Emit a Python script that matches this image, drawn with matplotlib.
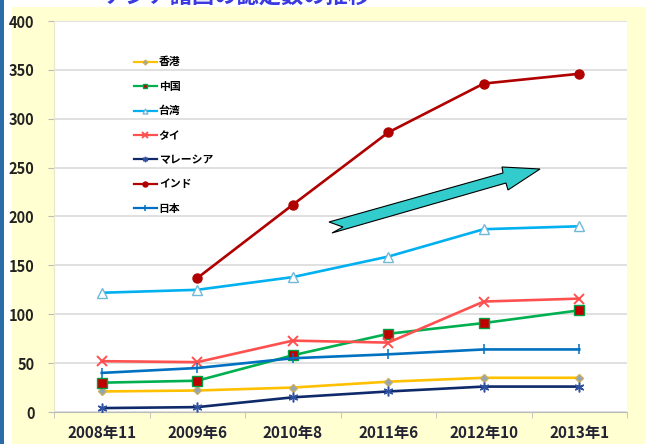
import matplotlib
matplotlib.use("Agg")
import matplotlib.pyplot as plt
from matplotlib.patches import Rectangle, Polygon
import numpy as np

plt.rcParams['font.family'] = ['Noto Sans CJK JP', 'DejaVu Sans']

categories = ["2008年11", "2009年6", "2010年8", "2011年6", "2012年10", "2013年1"]
hongkong = [21, 22, 25, 31, 35, 35]
china = [30, 32, 58, 80, 91, 104]
taiwan = [122, 125, 138, 159, 187, 190]
thai = [52, 51, 73, 71, 113, 116]
malaysia = [4, 5, 15, 21, 26, 26]
india = [np.nan, 137, 212, 286, 336, 346]
japan = [40, 45, 55, 59, 64, 64]
yticks = [0, 50, 100, 150, 200, 250, 300, 350, 400]
title = "アジア諸国の認定数の推移"

W, H = 646, 444
fig = plt.figure(figsize=(W / 100, H / 100), dpi=100)
fig.patch.set_facecolor("white")

# background panel
fig.patches.append(Rectangle((12 / W, 0), 1 - 12 / W, 1 - 7 / H, transform=fig.transFigure,
                             facecolor="#FFFFD2", edgecolor="none", zorder=-10))
fig.patches.append(Rectangle((0, 0), 4 / W, 1, transform=fig.transFigure,
                             facecolor="#2A6CA8", edgecolor="none", zorder=-10))

# title (cut off at top edge, as in the reference)
fig.text(0.367, 1.008, title, ha="center", va="center", fontsize=16, fontweight="bold",
         color="#3A3AE0", zorder=5)

ax = fig.add_axes([54 / W, 1 - 412 / H, 573 / W, 391 / H])
ax.set_facecolor("white")
x = np.arange(len(categories))

series = [
    ("香港", hongkong, dict(color="#FFC000", marker="D", ms=4.5, mfc="#95A3B8", mec="#C8B060")),
    ("中国", china, dict(color="#00B050", marker="s", ms=6.5, mfc="#C00000", mec="#00A040")),
    ("台湾", taiwan, dict(color="#00B0F0", marker="^", ms=6.5, mfc="white", mec="#6FB8D8")),
    ("タイ", thai, dict(color="#FF5050", marker="x", ms=7, mew=1.4, mec="#FF5050")),
    ("マレーシア", malaysia, dict(color="#0F2A6A", marker=(6, 2, 0), ms=7, mew=1.1, mec="#3050A0")),
    ("インド", india, dict(color="#B00000", marker="o", ms=6.5, mfc="#B00000", mec="#B00000")),
    ("日本", japan, dict(color="#0070C0", marker="|", ms=7, mew=1.1, mec="#0070C0")),
]
for name, vals, st in series:
    ax.plot(x, vals, lw=1.9, label=name, zorder=3, **st)

ax.set_xlim(-0.5, len(categories) - 0.5)
ax.set_ylim(0, 400)
ax.set_yticks(yticks)
ax.set_yticklabels([str(v) for v in yticks], fontsize=10.5, fontweight="bold", color="#222222")
ax.set_xticks(x)
ax.set_xticklabels(categories, fontsize=11, fontweight="bold", color="#222233")
ax.set_xticks(np.arange(-0.5, len(categories)), minor=True)
ax.tick_params(axis="x", which="major", length=0, pad=9)
ax.tick_params(axis="x", which="minor", length=4, color="#BBBBBB", direction="out")
ax.tick_params(axis="y", length=4, color="#BBBBBB", pad=10)
ax.yaxis.grid(True, color="#DADADA", lw=1.2, zorder=1)
ax.set_axisbelow(True)
for s in ["top", "right"]:
    ax.spines[s].set_visible(False)
ax.spines["left"].set_color("#E6E6C8")
ax.spines["bottom"].set_color("#BBBBBB")

leg = ax.legend(loc="upper left", bbox_to_anchor=(0.13, 0.922), frameon=False,
                prop=dict(size=7.8, weight="bold"), handlelength=2.1, handletextpad=0.2,
                labelspacing=1.32, markerscale=0.55, borderpad=0)
for h in leg.get_lines():
    h.set_linewidth(1.6)

# decorative arrow (figure pixel coordinates)
pts = [(329, 222), (503, 173), (502, 167), (540, 169), (508, 190), (506, 183),
       (332, 233), (343, 227)]
poly = Polygon([(px / W, 1 - py / H) for px, py in pts], closed=True, transform=fig.transFigure,
               facecolor="#33CCCC", edgecolor="black", lw=0.8, zorder=10)
fig.patches.append(poly)

fig.savefig("out.png", dpi=100)
